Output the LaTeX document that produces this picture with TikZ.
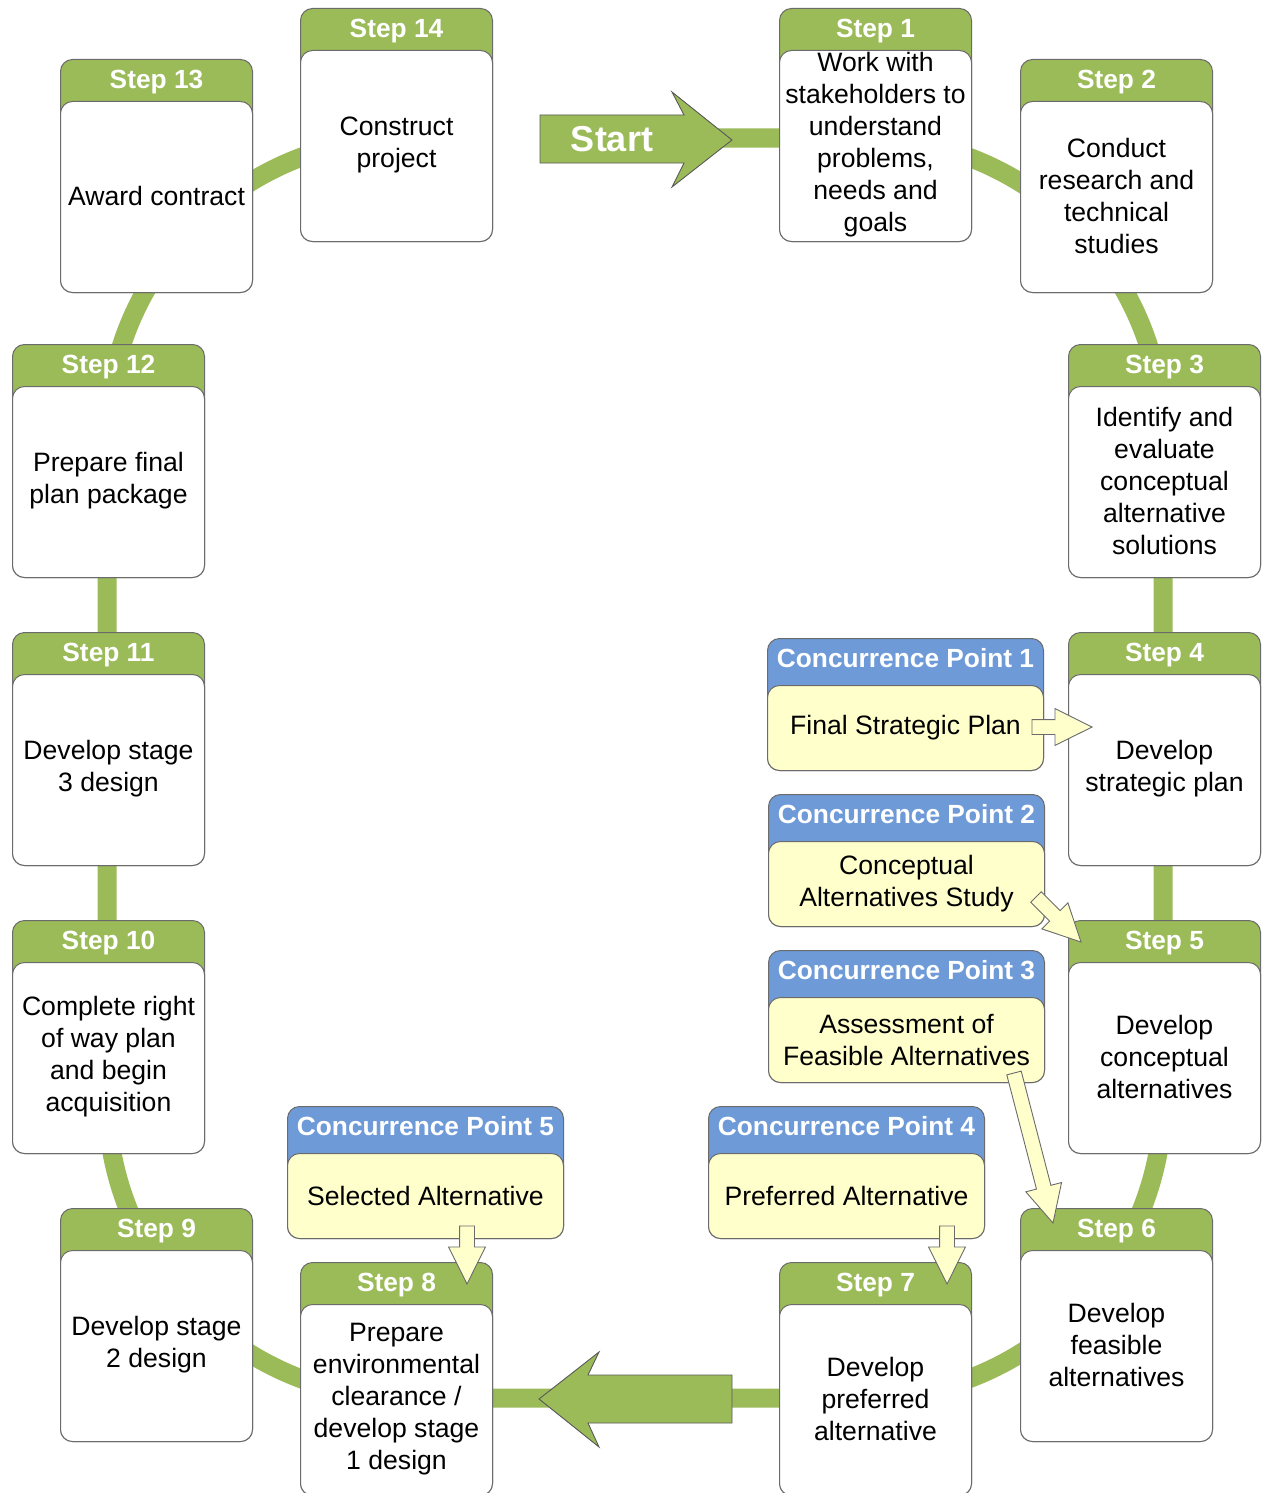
\documentclass[tikz,border=0pt]{standalone}
\usepackage{fontspec}
\setmainfont{Liberation Sans}
\usetikzlibrary{shapes.arrows,calc}
\definecolor{grn}{HTML}{9BBB59}
\definecolor{blu}{HTML}{6E9BD8}
\definecolor{ylw}{HTML}{FFFFCC}
\definecolor{edge}{HTML}{6B6B6B}
\tikzset{
  ring/.style={draw=grn, line width=19pt, rounded corners=300pt},
  bigarrow/.style={fill=grn, draw=black!65, line width=0.9pt, line join=miter},
  boxouter/.style={draw=edge, line width=1pt, rounded corners=12pt, anchor=north west, inner sep=0pt, minimum width=192pt, minimum height=233pt, fill=grn},
  boxbody/.style={draw=edge, line width=1pt, rounded corners=12pt, anchor=south, inner sep=0pt, minimum width=192pt, minimum height=191pt, fill=white},
  cpouter/.style={draw=edge, line width=1pt, rounded corners=12pt, anchor=north west, inner sep=0pt, minimum width=276pt, minimum height=132pt, fill=blu},
  cpbody/.style={draw=edge, line width=1pt, rounded corners=12pt, anchor=south, inner sep=0pt, minimum width=276pt, minimum height=85pt, fill=ylw},
  headtxt/.style={text=white, font=\bfseries\fontsize{26.3}{32}\selectfont, inner sep=0pt, anchor=base},
  bodytxt/.style={text=black, font=\fontsize{26.6}{32}\selectfont, align=center, inner sep=0pt},
  starttxt/.style={text=white, font=\bfseries\fontsize{36}{40}\selectfont, inner sep=0pt, anchor=base},
  cparr/.style={single arrow, draw=edge, fill=ylw, line width=0.9pt, inner sep=0pt, outer sep=0pt,
    single arrow head extend=11pt, single arrow tip angle=53, minimum width=0pt, line join=miter},
}
\newcommand\stepbox[5]{%
  \node[boxouter] (#1) at (#2,#3) {};
  \node[boxbody] (#1b) at (#1.south) {};
  \node[headtxt] (#1h) at ($(#1.north)+(0,29.5)$) {#4};
  \node[bodytxt] (#1t) at ($(#1b.center)+(0,-1)$) {#5};
}
\newcommand\cpbox[5]{%
  \node[cpouter] (#1) at (#2,#3) {};
  \node[cpbody] (#1b) at (#1.south) {};
  \node[headtxt] (#1h) at ($(#1.north)+(0,29.5)$) {#4};
  \node[bodytxt] (#1t) at (#1b.center) {#5};
}
\newcommand\cparrow[3]{%
  \path let \p1=#1, \p2=#2, \n1={atan2(\y2-\y1,\x2-\x1)}, \n2={veclen(\x2-\x1,\y2-\y1)} in
    node[cparr, rotate=\n1, minimum height=\n2, anchor=tail] (#3) at (\p1) {\rule{0pt}{14pt}};
}
\begin{document}
\begin{tikzpicture}[x=1pt,y=-1pt]
\clip (0,0) rectangle (1262,1493);
\fill[white] (0,0) rectangle (1262,1493);

% ring connector behind the steps
\coordinate (r0) at (690,138);
\coordinate (r1) at (1163,138);
\coordinate (r2) at (1163,1398);
\coordinate (r3) at (107,1398);
\coordinate (r4) at (107,138);
\coordinate (r5) at (460,138);
\draw[ring] (r0) -- (r1) -- (r2) -- (r3) -- (r4) -- (r5);

% big arrows
\draw[bigarrow] (540,115) -- (684,115) -- (672,92) -- (732,140) -- (672,187) -- (684,163) -- (540,163) -- cycle;
\node[starttxt] (start) at (612,151) {Start};
\draw[bigarrow] (732,1375) -- (588,1375) -- (599,1352) -- (539,1399) -- (599,1447) -- (588,1423) -- (732,1423) -- cycle;

% steps
\stepbox{s14}{300}{8}{Step 14}{Construct\\project}
\stepbox{s13}{60}{59}{Step 13}{Award contract}
\stepbox{s1}{779}{8}{Step 1}{Work with\\stakeholders to\\understand\\problems,\\needs and\\goals}
\stepbox{s2}{1020}{59}{Step 2}{Conduct\\research and\\technical\\studies}
\stepbox{s3}{1068}{344}{Step 3}{Identify and\\evaluate\\conceptual\\alternative\\solutions}
\stepbox{s12}{12}{344}{Step 12}{Prepare final\\plan package}
\stepbox{s4}{1068}{632}{Step 4}{Develop\\strategic plan}
\stepbox{s11}{12}{632}{Step 11}{Develop stage\\3 design}
\stepbox{s5}{1068}{920}{Step 5}{Develop\\conceptual\\alternatives}
\stepbox{s10}{12}{920}{Step 10}{Complete right\\of way plan\\and begin\\acquisition}
\stepbox{s6}{1020}{1208}{Step 6}{Develop\\feasible\\alternatives}
\stepbox{s9}{60}{1208}{Step 9}{Develop stage\\2 design}
\stepbox{s7}{779}{1262}{Step 7}{Develop\\preferred\\alternative}
\stepbox{s8}{300}{1262}{Step 8}{Prepare\\environmental\\clearance /\\develop stage\\1 design}

% concurrence points
\cpbox{cp1}{767}{638}{Concurrence Point 1}{Final Strategic Plan}
\cpbox{cp2}{768}{794}{Concurrence Point 2}{Conceptual\\Alternatives Study}
\cpbox{cp3}{768}{950}{Concurrence Point 3}{Assessment of\\Feasible Alternatives}
\cpbox{cp4}{708}{1106}{Concurrence Point 4}{Preferred Alternative}
\cpbox{cp5}{287}{1106}{Concurrence Point 5}{Selected Alternative}

% concurrence arrows
\coordinate (a1s) at (1032,727);  \coordinate (a1e) at (1092,727);
\coordinate (a2s) at (1036,897);  \coordinate (a2e) at (1081,942);
\coordinate (a3s) at (1014,1073); \coordinate (a3e) at (1053,1223);
\coordinate (a4s) at (947,1226);  \coordinate (a4e) at (947,1284);
\coordinate (a5s) at (467,1226);  \coordinate (a5e) at (467,1284);
\cparrow{(a1s)}{(a1e)}{ar1}
\cparrow{(a2s)}{(a2e)}{ar2}
\cparrow{(a3s)}{(a3e)}{ar3}
\cparrow{(a4s)}{(a4e)}{ar4}
\cparrow{(a5s)}{(a5e)}{ar5}
\end{tikzpicture}
\end{document}
